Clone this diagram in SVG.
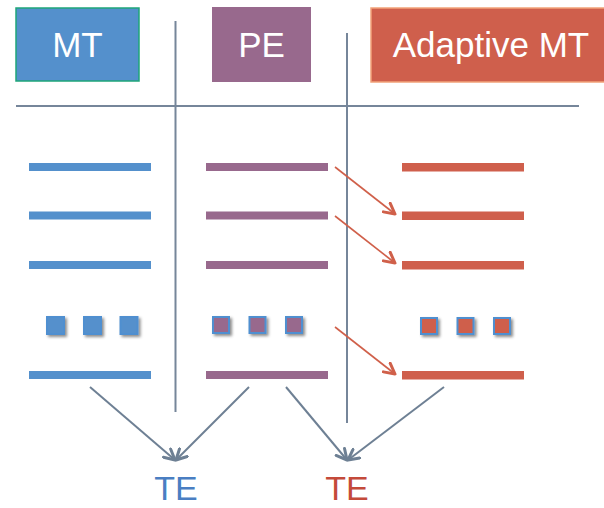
<svg xmlns="http://www.w3.org/2000/svg" width="604" height="508" viewBox="0 0 604 508">
  <style>
    .hdr { font-family: "Liberation Sans", Arial, sans-serif; font-size: 35px; fill: #ffffff; text-anchor: middle; }
    .te { font-family: "Liberation Sans", Arial, sans-serif; font-size: 34px; text-anchor: middle; }
    .grid { stroke: #76869A; stroke-width: 2; fill: none; }
    .blue { fill: #5490CC; }
    .purple { fill: #98698D; }
    .red { fill: #CF5F4C; }
    .dot { stroke: #4F8FD0; stroke-width: 2; filter: url(#shadow); }
    .redarrow { stroke: #D0604A; stroke-width: 1.6; fill: none; marker-end: url(#headRed); }
    .grayarrow { stroke: #6E8094; stroke-width: 2; fill: none; marker-end: url(#headGray); }
  </style>
  <defs>
    <filter id="shadow" x="-50%" y="-50%" width="200%" height="200%">
      <feDropShadow dx="2" dy="2" stdDeviation="1.5" flood-color="#000" flood-opacity="0.45"/>
    </filter>
    <marker id="headRed" viewBox="0 0 14 14" refX="12" refY="7" markerWidth="14" markerHeight="14" markerUnits="userSpaceOnUse" orient="auto">
      <path d="M1.5,1.5 L12,7 L1.5,12.5" fill="none" stroke="#D0604A" stroke-width="3" stroke-linecap="round" stroke-linejoin="round"/>
    </marker>
    <marker id="headGray" viewBox="0 0 14 14" refX="12" refY="7" markerWidth="14" markerHeight="14" markerUnits="userSpaceOnUse" orient="auto">
      <path d="M1.5,1.5 L12,7 L1.5,12.5" fill="none" stroke="#6E8094" stroke-width="3" stroke-linecap="round" stroke-linejoin="round"/>
    </marker>
  </defs>

  <!-- column dividers -->
  <g id="grid">
    <line class="grid" x1="175.5" y1="21" x2="175.5" y2="412"/>
    <line class="grid" x1="347" y1="33" x2="347" y2="423"/>
    <line class="grid" x1="16" y1="106" x2="579" y2="106"/>
  </g>

  <!-- headers -->
  <g id="header-mt">
    <rect x="16" y="8" width="123" height="73" fill="#5490CC" stroke="#1EA57A" stroke-width="1.5"/>
    <text class="hdr" x="77.5" y="57">MT</text>
  </g>
  <g id="header-pe">
    <rect x="212" y="7" width="99" height="75" fill="#98698D"/>
    <text class="hdr" x="261.5" y="57">PE</text>
  </g>
  <g id="header-adaptive">
    <rect x="371" y="8" width="240" height="74" fill="#CF5F4C" stroke="#F2A27A" stroke-width="1.5"/>
    <text class="hdr" x="491" y="57">Adaptive MT</text>
  </g>

  <!-- MT column -->
  <g id="col-mt">
    <rect class="blue" x="29" y="163" width="122" height="8"/>
    <rect class="blue" x="29" y="211.5" width="122" height="8"/>
    <rect class="blue" x="29" y="261" width="122" height="8"/>
    <rect class="blue dot" x="47" y="317" width="17" height="17"/>
    <rect class="blue dot" x="84" y="317" width="17" height="17"/>
    <rect class="blue dot" x="120.5" y="317" width="17" height="17"/>
    <rect class="blue" x="29" y="371" width="122" height="8"/>
  </g>

  <!-- PE column -->
  <g id="col-pe">
    <rect class="purple" x="206" y="163" width="122" height="8"/>
    <rect class="purple" x="206" y="211.5" width="122" height="8"/>
    <rect class="purple" x="206" y="261" width="122" height="8"/>
    <rect class="purple dot" x="213" y="317" width="16" height="16"/>
    <rect class="purple dot" x="249.5" y="317" width="16" height="16"/>
    <rect class="purple dot" x="286" y="317" width="16" height="16"/>
    <rect class="purple" x="206" y="371" width="122" height="8"/>
  </g>

  <!-- Adaptive MT column -->
  <g id="col-adaptive">
    <rect class="red" x="402" y="163" width="122" height="8.5"/>
    <rect class="red" x="402" y="211.5" width="122" height="8.5"/>
    <rect class="red" x="402" y="261" width="122" height="8.5"/>
    <rect class="red dot" x="421" y="318" width="16" height="16"/>
    <rect class="red dot" x="457.5" y="318" width="16" height="16"/>
    <rect class="red dot" x="494" y="318" width="16" height="16"/>
    <rect class="red" x="402" y="371" width="122" height="8.5"/>
  </g>

  <!-- outputs -->
  <g id="te-mt">
    <text class="te" x="176" y="500" fill="#4A7EC2">TE</text>
  </g>
  <g id="te-adaptive">
    <text class="te" x="347" y="500" fill="#C44A3A">TE</text>
  </g>

  <!-- connectors -->
  <g id="connectors">
    <line class="redarrow" x1="335" y1="167" x2="395" y2="214"/>
    <line class="redarrow" x1="335" y1="216" x2="395" y2="263"/>
    <line class="redarrow" x1="335" y1="327" x2="395" y2="374"/>
    <line class="grayarrow" x1="90" y1="387" x2="175" y2="460"/>
    <line class="grayarrow" x1="249" y1="387" x2="176" y2="460"/>
    <line class="grayarrow" x1="286" y1="387" x2="347" y2="460"/>
    <line class="grayarrow" x1="444" y1="387" x2="348" y2="460"/>
  </g>
</svg>
